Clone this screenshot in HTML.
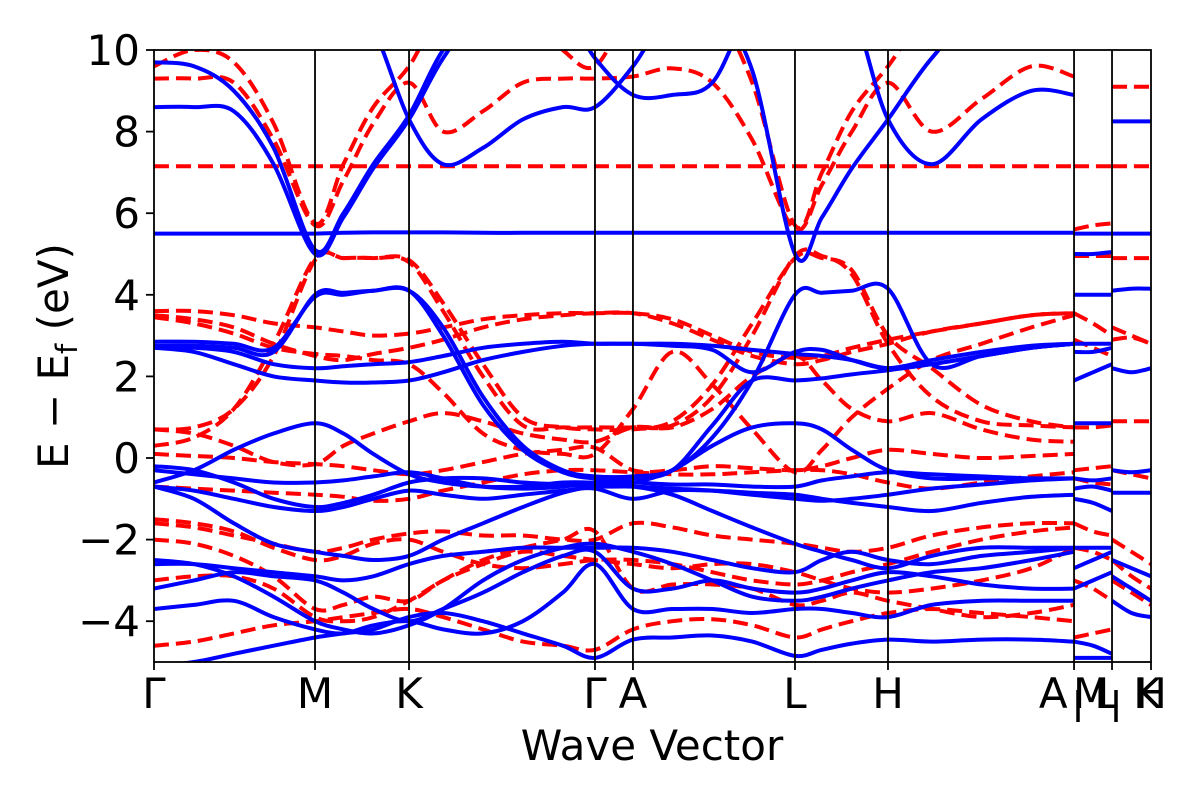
<!DOCTYPE html>
<html><head><meta charset="utf-8"><style>
body{margin:0;background:#fff;}
svg text{font-family:"DejaVu Sans","Liberation Sans",sans-serif;fill:#000;}
</style></head><body>
<svg id="chart" width="1200" height="800" viewBox="0 0 1200 800" xmlns="http://www.w3.org/2000/svg">
<defs><clipPath id="clip"><rect x="154" y="50" width="997" height="612"/></clipPath></defs>
<g id="bands" clip-path="url(#clip)"></g>
<g id="axes"></g>
</svg>
<script>
// ---- data ----
const kGrid = [0,.04,.08,.12,.1615,.19,.22,.2558,.29,.33,.37,.41,.4423,.4804,.52,.56,.60,.6429,.67,.70,.7362,.78,.83,.88,.9228];
const kLabels = ["Γ","M","K","Γ","A","L","H","A","M","L","K","H"];
const kLabelPos = [0,.1615,.2558,.4423,.4804,.6429,.7362,.902,.94,.955,.996,1.0];
const kLines = [.1615,.2558,.4423,.4804,.6429,.7362,.9228,.9609];
const yTicks = [-4,-2,0,2,4,6,8,10];

const blueBands = [
 [5.5,5.5,5.5,5.5,5.5,5.52,5.53,5.53,5.53,5.52,5.52,5.52,5.52,5.52,5.52,5.52,5.52,5.52,5.52,5.52,5.52,5.52,5.52,5.52,5.52],
 [8.6,8.6,8.5,7.2,5.0,5.9,7.1,8.3,9.8,11,11,11,11,11,11,11,9.5,5.0,5.9,7.1,8.3,9.8,11,11,11],
 [9.7,9.6,9.0,7.6,5.1,6.0,7.2,8.4,10,11,11,11,9.8,8.9,8.9,9.2,11,11,11,11,11,11,11,11,11],
 [11,11,11,11,11,11,10.5,8.3,7.2,7.6,8.3,8.6,8.6,9.6,11,11,11,11,11,11,8.3,7.2,8.3,9.0,8.9],
 [2.75,2.75,2.7,2.6,4.0,4.05,4.1,4.1,3.0,1.3,0.2,-0.35,-0.5,-0.5,-0.3,0.8,1.9,1.9,1.95,2.05,2.15,2.3,2.5,2.7,2.8],
 [2.85,2.85,2.8,2.7,3.95,4.0,4.1,4.1,3.2,1.5,0.3,-0.3,-0.45,-0.45,-0.3,0.5,1.9,4.0,4.05,4.1,4.15,2.3,2.5,2.7,2.8],
 [-0.6,-0.3,0.2,0.6,0.85,0.6,0.1,-0.4,-0.6,-0.7,-0.7,-0.6,-0.6,-0.6,-0.3,0.3,0.75,0.85,0.7,0.2,-0.3,-0.5,-0.5,-0.5,-0.5],
 [2.7,2.7,2.6,2.3,2.2,2.25,2.3,2.35,2.5,2.7,2.8,2.85,2.8,2.8,2.75,2.65,2.1,2.6,2.65,2.4,2.2,2.4,2.6,2.75,2.8],
 [2.7,2.6,2.3,2.0,1.9,1.85,1.85,1.9,2.1,2.4,2.6,2.75,2.8,2.8,2.8,2.75,2.65,2.55,2.5,2.4,2.2,2.3,2.5,2.7,2.8],
 [-0.3,-0.4,-0.5,-0.6,-0.6,-0.55,-0.45,-0.35,-0.5,-0.7,-0.75,-0.7,-0.6,-0.6,-0.65,-0.65,-0.7,-0.7,-0.55,-0.45,-0.35,-0.4,-0.45,-0.5,-0.5],
 [-0.2,-0.3,-0.6,-1.0,-1.2,-1.1,-0.9,-0.6,-0.5,-0.5,-0.6,-0.65,-0.7,-0.7,-0.75,-0.8,-0.9,-1.0,-1.05,-1.0,-0.9,-0.75,-0.65,-0.55,-0.5],
 [-0.7,-0.8,-1.0,-1.2,-1.3,-1.2,-1.0,-0.8,-0.9,-1.0,-0.9,-0.8,-0.75,-1.0,-0.8,-0.8,-0.85,-0.9,-1.0,-1.1,-1.2,-1.3,-1.1,-0.95,-0.9],
 [-0.7,-1.0,-1.6,-2.1,-2.3,-2.4,-2.5,-2.4,-2.0,-1.6,-1.2,-0.85,-0.7,-0.7,-0.9,-1.3,-1.7,-2.1,-2.3,-2.5,-2.7,-2.4,-2.2,-2.2,-2.2],
 [-2.6,-2.6,-2.7,-2.8,-2.9,-3.0,-2.9,-2.6,-2.4,-2.3,-2.2,-2.2,-2.2,-2.2,-2.3,-2.5,-2.7,-2.8,-2.5,-2.3,-2.5,-2.6,-2.4,-2.3,-2.2],
 [-3.2,-3.0,-2.8,-2.9,-3.0,-3.3,-3.7,-4.0,-3.7,-3.3,-2.8,-2.4,-2.3,-3.2,-3.2,-3.0,-3.2,-3.3,-3.2,-3.0,-2.8,-2.9,-3.1,-3.2,-3.2],
 [-3.7,-3.6,-3.5,-3.9,-4.2,-4.3,-4.1,-4.0,-4.2,-4.3,-4.0,-3.3,-2.6,-3.7,-3.7,-3.7,-3.8,-3.7,-3.7,-3.8,-3.9,-3.6,-3.5,-3.5,-3.5],
 [-5.1,-5.0,-4.8,-4.6,-4.4,-4.3,-4.2,-3.9,-3.8,-4.0,-4.3,-4.6,-4.9,-4.45,-4.4,-4.35,-4.5,-4.85,-4.7,-4.55,-4.45,-4.5,-4.45,-4.45,-4.5],
 [-2.5,-2.6,-2.9,-3.4,-4.0,-4.2,-4.3,-4.1,-3.7,-3.0,-2.5,-2.2,-2.1,-2.3,-2.6,-3.0,-3.4,-3.5,-3.4,-3.2,-3.0,-2.8,-2.7,-2.5,-2.3]
];
const redBands = [
 [7.15,7.15,7.15,7.15,7.15,7.15,7.15,7.15,7.15,7.15,7.15,7.15,7.15,7.15,7.15,7.15,7.15,7.15,7.15,7.15,7.15,7.15,7.15,7.15,7.15],
 [9.3,9.3,9.2,7.8,5.7,6.8,8.2,9.2,8.0,8.5,9.2,9.3,9.3,9.35,9.55,9.2,7.8,5.6,6.7,8.0,9.2,8.0,8.8,9.6,9.35],
 [9.6,10,9.7,8.2,5.75,7.2,8.6,9.6,11,11,11,10,9.6,11,11,11,9.2,5.7,7.0,8.5,9.6,11,11,11,11],
 [0.7,0.75,1.2,2.5,4.85,4.9,4.9,4.85,3.8,2.3,1.0,0.75,0.7,0.7,0.9,1.8,3.3,4.9,4.9,4.6,3.0,2.2,1.3,0.9,0.75],
 [0.3,0.5,1.2,2.8,4.9,4.9,4.9,4.8,3.6,2.0,0.8,0.75,0.75,0.75,0.8,1.5,3.0,4.95,4.95,4.5,2.8,1.5,0.9,0.8,0.75],
 [3.6,3.6,3.5,3.3,3.2,3.1,3.0,3.05,3.2,3.4,3.5,3.55,3.55,3.55,3.4,3.0,2.6,2.45,2.5,2.7,2.9,3.1,3.3,3.5,3.55],
 [3.5,3.4,3.2,2.8,2.5,2.4,2.55,2.7,2.9,3.2,3.4,3.5,3.55,3.55,3.3,2.9,2.5,2.3,2.4,2.6,2.8,3.1,3.3,3.5,3.55],
 [3.45,3.3,3.05,2.7,2.55,2.5,2.4,2.3,1.6,0.6,0.2,0.1,0.1,1.2,2.6,1.8,0.7,-0.35,0.2,1.0,1.7,2.4,2.8,3.2,3.5],
 [0.7,0.6,0.3,-0.1,-0.15,0.3,0.6,0.9,1.1,0.9,0.6,0.45,0.4,0.75,0.75,1.2,2.0,2.5,1.9,1.2,0.9,1.1,0.7,0.45,0.4],
 [0.1,0.05,0.0,-0.1,-0.15,-0.2,-0.3,-0.4,-0.3,-0.1,0.1,0.2,0.25,-0.3,-0.3,-0.2,-0.25,-0.3,-0.2,0.0,0.2,0.1,0.0,0.05,0.1],
 [-0.7,-0.75,-0.8,-0.85,-0.9,-0.95,-1.05,-1.0,-0.8,-0.6,-0.4,-0.3,-0.3,-0.35,-0.4,-0.4,-0.35,-0.3,-0.3,-0.4,-0.6,-0.75,-0.6,-0.45,-0.35],
 [-1.6,-1.7,-1.9,-2.1,-2.3,-2.2,-2.0,-1.85,-1.8,-1.9,-1.9,-2.0,-2.0,-1.6,-1.7,-1.9,-2.0,-2.1,-2.2,-2.3,-2.2,-1.9,-1.7,-1.6,-1.6],
 [-1.5,-1.6,-1.8,-2.2,-2.5,-2.4,-2.1,-2.0,-2.3,-2.6,-2.7,-2.6,-2.5,-2.5,-2.6,-2.8,-3.0,-3.1,-3.0,-2.8,-2.6,-2.3,-2.0,-1.8,-1.7],
 [-2.0,-2.1,-2.4,-2.9,-3.7,-3.6,-3.4,-3.5,-3.0,-2.6,-2.3,-2.4,-2.5,-2.6,-2.7,-2.6,-2.6,-2.8,-3.0,-3.2,-3.3,-3.2,-3.0,-2.7,-2.2],
 [-3.0,-2.9,-2.9,-3.2,-3.9,-4.0,-3.9,-3.5,-3.0,-2.5,-2.2,-2.0,-1.8,-3.2,-3.1,-3.1,-3.2,-3.6,-3.5,-3.3,-3.5,-3.7,-3.9,-3.8,-3.6],
 [-4.6,-4.5,-4.3,-4.1,-4.0,-3.9,-3.8,-3.7,-3.9,-4.2,-4.5,-4.6,-4.7,-4.2,-4.0,-3.95,-4.1,-4.4,-4.2,-4.0,-3.8,-3.7,-3.8,-3.9,-4.0]
];
// short segments (M-L and L-H at right end)
const kSeg1 = [.9228,.9418,.9609];
const kSeg2 = [.9609,.9805,1.0];
const blueSeg1 = [[5.5,5.5,5.5],[5.0,5.0,5.05],[4.0,4.0,4.0],[2.6,2.6,2.7],[1.9,2.1,2.3],[2.8,2.8,2.8],[0.85,0.85,0.85],[-0.5,-0.55,-0.5],[-0.75,-0.7,-0.8],[-1.0,-1.1,-1.3],[-2.2,-2.2,-2.2],[-2.7,-2.5,-2.3],[-3.2,-3.0,-2.8],[-4.5,-4.6,-4.8],[-4.9,-4.9,-4.9]];
const redSeg1 = [[7.15,7.15,7.15],[5.6,5.7,5.75],[4.95,4.95,4.95],[3.55,3.3,3.0],[2.9,2.7,2.5],[0.75,0.75,0.8],[-0.3,-0.25,-0.2],[-0.5,-0.6,-0.65],[-1.6,-1.8,-1.9],[-2.2,-2.3,-2.5],[-3.0,-3.2,-3.5],[-4.4,-4.3,-4.2]];
const blueSeg2 = [[5.5,5.5,5.5],[8.25,8.25,8.25],[4.1,4.15,4.15],[2.2,2.1,2.2],[-0.3,-0.35,-0.3],[-0.85,-0.85,-0.85],[-2.5,-2.7,-2.9],[-2.9,-3.2,-3.5],[-3.5,-3.8,-3.9]];
const redSeg2 = [[7.15,7.15,7.15],[9.1,9.1,9.1],[4.9,4.9,4.9],[2.9,2.95,2.8],[3.2,3.0,2.8],[0.9,0.9,0.9],[-0.3,-0.4,-0.5],[-2.0,-2.3,-2.6],[-3.0,-3.3,-3.6],[-2.5,-2.9,-3.2]];

// ---- scales ----
const X0=154,X1=1151,Y0=662,Y1=50,EMIN=-5,EMAX=10;
function xs(k){return X0+k*(X1-X0);}
function ys(e){return Y0-(e-EMIN)/(EMAX-EMIN)*(Y0-Y1);}
const NS="http://www.w3.org/2000/svg";
function pathFor(ks,vals){
  const p=ks.map((k,i)=>[xs(k),ys(vals[i])]);
  let d="M"+p[0][0].toFixed(1)+","+p[0][1].toFixed(1);
  for(let i=0;i<p.length-1;i++){
    const a=p[Math.max(i-1,0)],b=p[i],c=p[i+1],e=p[Math.min(i+2,p.length-1)];
    const c1=[b[0]+(c[0]-a[0])/6,b[1]+(c[1]-a[1])/6];
    const c2=[c[0]-(e[0]-b[0])/6,c[1]-(e[1]-b[1])/6];
    d+=" C"+c1[0].toFixed(1)+","+c1[1].toFixed(1)+" "+c2[0].toFixed(1)+","+c2[1].toFixed(1)+" "+c[0].toFixed(1)+","+c[1].toFixed(1);
  }
  return d;
}
const g=document.getElementById('bands');
function draw(ks,set,color,dashed,name){
  set.forEach((vals,i)=>{
    const el=document.createElementNS(NS,'path');
    el.setAttribute('d',pathFor(ks,vals));
    el.setAttribute('fill','none');
    el.setAttribute('stroke',color);
    el.setAttribute('stroke-width','4');
    if(dashed) el.setAttribute('stroke-dasharray','15,7');
    
    
    g.appendChild(el);
  });
}
draw(kGrid,redBands,'#ff0000',true,'red-band');
draw(kGrid,blueBands,'#0000ff',false,'blue-band');
draw(kSeg1,redSeg1,'#ff0000',true,'red-band-ml');
draw(kSeg1,blueSeg1,'#0000ff',false,'blue-band-ml');
draw(kSeg2,redSeg2,'#ff0000',true,'red-band-lh');
draw(kSeg2,blueSeg2,'#0000ff',false,'blue-band-lh');

const ax=document.getElementById('axes');
kLines.forEach(k=>{
  const l=document.createElementNS(NS,'line');
  l.setAttribute('x1',xs(k));l.setAttribute('x2',xs(k));
  l.setAttribute('y1',Y1);l.setAttribute('y2',Y0);
  l.setAttribute('stroke','#000');l.setAttribute('stroke-width','1.8');
  
  
  ax.appendChild(l);
});
const frame=document.createElementNS(NS,'rect');
frame.setAttribute('x',X0);frame.setAttribute('y',Y1);
frame.setAttribute('width',X1-X0);frame.setAttribute('height',Y0-Y1);
frame.setAttribute('fill','none');frame.setAttribute('stroke','#000');frame.setAttribute('stroke-width','1.8');


ax.appendChild(frame);
yTicks.forEach(t=>{
  const l=document.createElementNS(NS,'line');
  l.setAttribute('x1',X0-8);l.setAttribute('x2',X0);
  l.setAttribute('y1',ys(t));l.setAttribute('y2',ys(t));
  l.setAttribute('stroke','#000');l.setAttribute('stroke-width','1.8');
  
  
  ax.appendChild(l);
  const tx=document.createElementNS(NS,'text');
  tx.setAttribute('x',X0-14);tx.setAttribute('y',ys(t)+15);
  tx.setAttribute('text-anchor','end');tx.setAttribute('font-size','42');
  tx.textContent=(t<0?'\u2212':'')+Math.abs(t);
  
  
  ax.appendChild(tx);
});
[0].concat(kLines,[1]).forEach(k=>{
  const l=document.createElementNS(NS,'line');
  l.setAttribute('x1',xs(k));l.setAttribute('x2',xs(k));
  l.setAttribute('y1',Y0);l.setAttribute('y2',Y0+8);
  l.setAttribute('stroke','#000');l.setAttribute('stroke-width','1.8');
  
  
  ax.appendChild(l);
});
kLabels.forEach((s,i)=>{
  const tx=document.createElementNS(NS,'text');
  tx.setAttribute('x',xs(kLabelPos[i]));tx.setAttribute('y',708);
  tx.setAttribute('text-anchor','middle');tx.setAttribute('font-size','42');
  tx.textContent=s;
  
  
  ax.appendChild(tx);
});
</script>
<svg style="position:absolute;left:0;top:0" width="1200" height="800">
<line x1="1078" y1="690" x2="1078" y2="722" stroke="#000" stroke-width="3.5"/>
<line x1="1116" y1="690" x2="1116" y2="722" stroke="#000" stroke-width="3.5"/>
<text x="652" y="760" text-anchor="middle" font-size="42" style="font-family:'DejaVu Sans','Liberation Sans',sans-serif">Wave Vector</text>
<text transform="translate(68,356) rotate(-90)" text-anchor="middle" font-size="42" style="font-family:'DejaVu Sans','Liberation Sans',sans-serif">E − E<tspan font-size="29" dy="9">f</tspan><tspan dy="-9"> (eV)</tspan></text>
</svg>
</body></html>
